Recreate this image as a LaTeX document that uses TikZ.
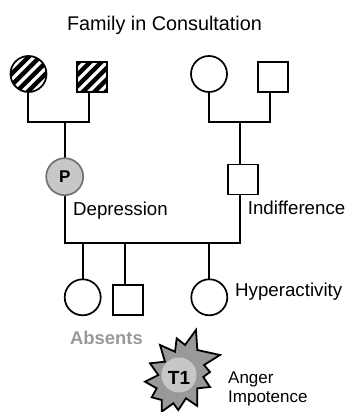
\documentclass[tikz,border=0pt]{standalone}
\usepackage{fontspec}
\setmainfont{Liberation Sans}
\definecolor{pgray}{gray}{0.78}
\definecolor{stargray}{gray}{0.6}
\definecolor{absgray}{gray}{0.6}
\tikzset{
  circ/.style={circle,draw,line width=1.7pt,inner sep=0pt,minimum size=36pt,fill=white},
  sq/.style={rectangle,draw,line width=1.7pt,inner sep=0pt,minimum size=30pt,fill=white},
  hatch/.style={path picture={
    \foreach \d in {-36,-28,...,36}{
      \draw[line width=4.4pt,black]
        ([xshift=\d*1.414pt]path picture bounding box.center)
        ++(-30pt,-30pt) -- ++(60pt,60pt);
    }}},
  lbl/.style={anchor=base west,inner sep=0pt,font=\fontsize{18.7}{20}\selectfont},
  link/.style={draw,line width=1.8pt,line join=miter},
}
\begin{document}
\begin{tikzpicture}[x=1pt,y=-1pt]
\useasboundingbox (0,0) rectangle (345,412);
\node[anchor=base,inner sep=0pt,font=\fontsize{19.8}{22}\selectfont] (title) at (164.5,31) {Family in Consultation};
\coordinate (j1) at (65,122);
\coordinate (j2) at (240,122);
\coordinate (m1) at (65,243);
\coordinate (m2) at (240,243);
\path[link] (28,92) -- (28,122) -- (89,122) -- (89,92);
\path[link] (209,92) -- (209,122) -- (270,122) -- (270,92);
\path[link] (j1) -- (65,160);
\path[link] (j2) -- (240,165);
\path[link] (65,195) -- (m1) -- (m2) -- (240,195);
\path[link] (83,243) -- (83,280);
\path[link] (125,243) -- (125,285);
\path[link] (209,280) -- (209,243);
\node[circ,hatch] (gm1) at (28.5,74) {};
\node[sq,hatch] (gf1) at (92.2,77) {};
\node[circ] (gm2) at (209,74) {};
\node[sq] (gf2) at (273,77) {};
\node[circ,fill=pgray,draw=black!55!white,minimum size=37pt,font=\fontsize{17}{20}\selectfont\bfseries] (p) at (64.7,176.7) {P};
\node[sq] (f) at (242.7,179.5) {};
\node[circ] (c1) at (82.7,297.3) {};
\node[sq] (c2) at (128.2,300.3) {};
\node[circ] (c3) at (209.3,297.3) {};
\node[lbl] (dep) at (73,215) {Depression};
\node[lbl] (ind) at (247.7,214) {Indifference};
\node[lbl] (hyp) at (235,296) {Hyperactivity};
\node[lbl,font=\fontsize{18.4}{20}\selectfont\bfseries,text=absgray] (abs) at (70,344) {Absents};
\draw[fill=stargray,line width=1.8pt,line join=miter,miter limit=4]
 (196,330) -- (197.3,350) -- (220,355) -- (204,365) -- (210,372) -- (203.3,377) -- (210,387) -- (197.3,388.3) -- (197.3,406) -- (186,398.3) -- (178.3,410) -- (173.3,403.3) -- (161.7,411.7) -- (161.7,400) -- (151.7,397.3) -- (156.7,388.3) -- (145,381.7) -- (158.3,375) -- (150,363.3) -- (165,361.7) -- (160,345) -- (175,351.7) -- (176.7,338.3) -- (185,345) -- cycle;
\node[circle,fill=pgray,draw=none,inner sep=0pt,minimum size=35pt] (t1) at (179,375) {};
\node[inner sep=0pt,font=\fontsize{19}{20}\selectfont\bfseries] (t1txt) at (179,378) {T1};
\node[lbl,font=\fontsize{17}{20}\selectfont] (ang) at (228,383) {Anger};
\node[lbl,font=\fontsize{17}{20}\selectfont] (imp) at (228,402) {Impotence};
\end{tikzpicture}
\end{document}
